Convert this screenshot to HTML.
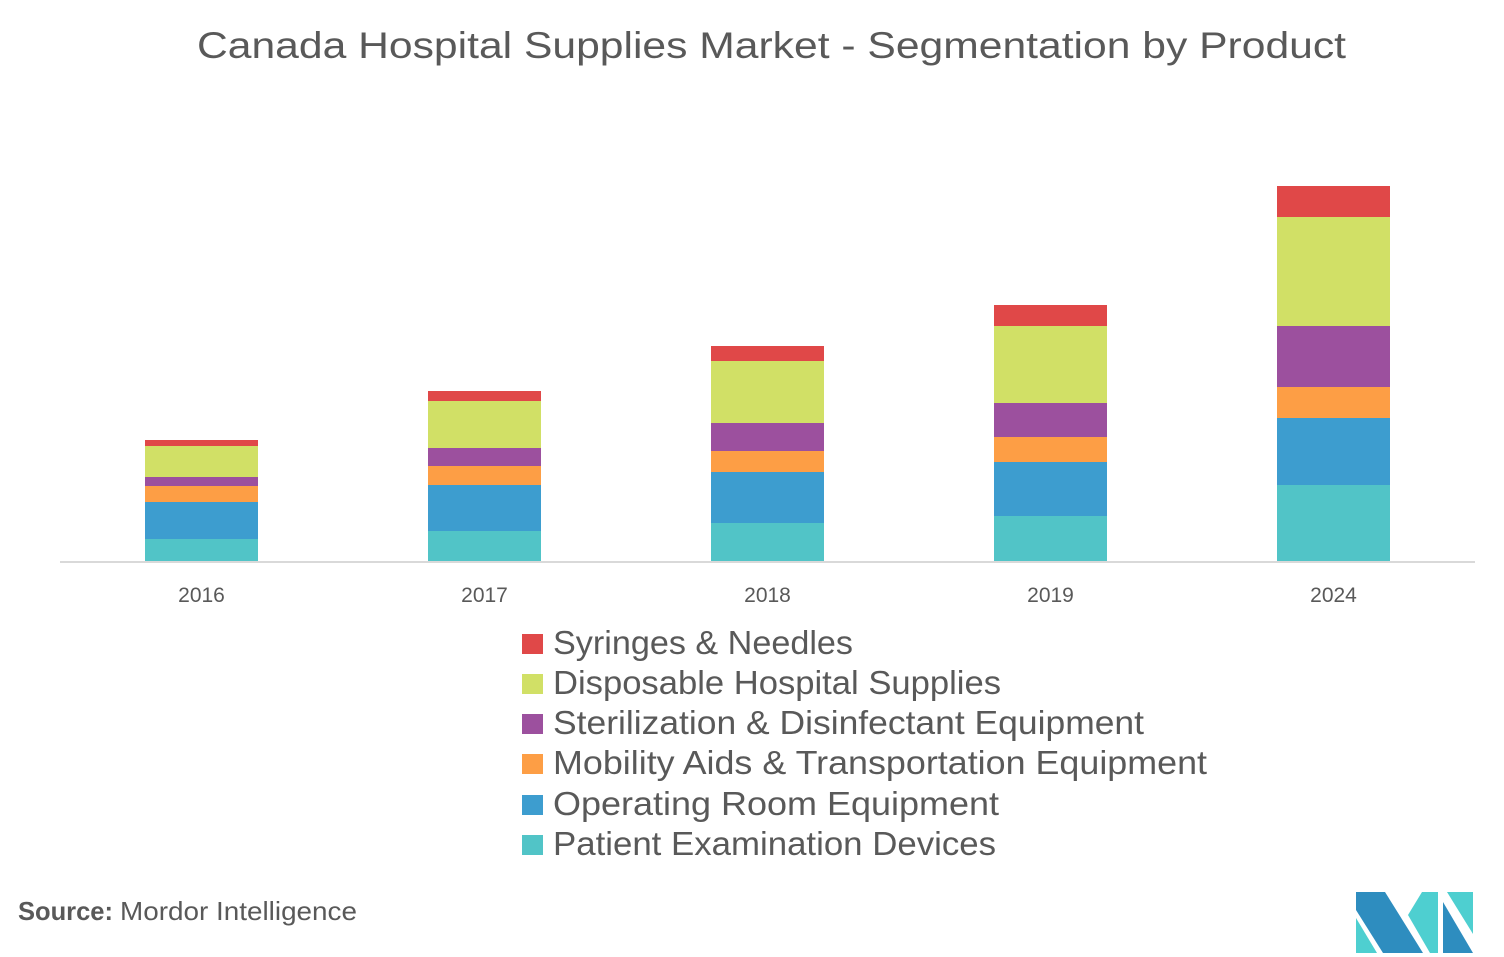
<!DOCTYPE html>
<html><head><meta charset="utf-8"><style>
html,body{margin:0;padding:0;background:#fff;}
svg{display:block;}
text{font-family:"Liberation Sans",sans-serif;fill:#595959;}
</style></head><body>
<svg width="1504" height="957" viewBox="0 0 1504 957" xmlns="http://www.w3.org/2000/svg">
<rect width="1504" height="957" fill="#fff"/>
<text x="197" y="58" font-size="37" textLength="1149" lengthAdjust="spacingAndGlyphs">Canada Hospital Supplies Market -  Segmentation by Product</text>

<!-- 2016 -->
<g>
<rect x="145" y="440" width="113" height="6" fill="#E04848"/>
<rect x="145" y="446" width="113" height="31" fill="#D1E066"/>
<rect x="145" y="477" width="113" height="9" fill="#9C509E"/>
<rect x="145" y="486" width="113" height="16" fill="#FD9E45"/>
<rect x="145" y="502" width="113" height="37" fill="#3D9DCF"/>
<rect x="145" y="539" width="113" height="22" fill="#51C4C7"/>
</g>
<!-- 2017 -->
<g>
<rect x="428" y="391" width="113" height="10" fill="#E04848"/>
<rect x="428" y="401" width="113" height="47" fill="#D1E066"/>
<rect x="428" y="448" width="113" height="18" fill="#9C509E"/>
<rect x="428" y="466" width="113" height="19" fill="#FD9E45"/>
<rect x="428" y="485" width="113" height="46" fill="#3D9DCF"/>
<rect x="428" y="531" width="113" height="30" fill="#51C4C7"/>
</g>
<!-- 2018 -->
<g>
<rect x="711" y="346" width="113" height="15" fill="#E04848"/>
<rect x="711" y="361" width="113" height="62" fill="#D1E066"/>
<rect x="711" y="423" width="113" height="28" fill="#9C509E"/>
<rect x="711" y="451" width="113" height="21" fill="#FD9E45"/>
<rect x="711" y="472" width="113" height="51" fill="#3D9DCF"/>
<rect x="711" y="523" width="113" height="38" fill="#51C4C7"/>
</g>
<!-- 2019 -->
<g>
<rect x="994" y="305" width="113" height="21" fill="#E04848"/>
<rect x="994" y="326" width="113" height="77" fill="#D1E066"/>
<rect x="994" y="403" width="113" height="34" fill="#9C509E"/>
<rect x="994" y="437" width="113" height="25" fill="#FD9E45"/>
<rect x="994" y="462" width="113" height="54" fill="#3D9DCF"/>
<rect x="994" y="516" width="113" height="45" fill="#51C4C7"/>
</g>
<!-- 2024 -->
<g>
<rect x="1277" y="186" width="113" height="31" fill="#E04848"/>
<rect x="1277" y="217" width="113" height="109" fill="#D1E066"/>
<rect x="1277" y="326" width="113" height="61" fill="#9C509E"/>
<rect x="1277" y="387" width="113" height="31" fill="#FD9E45"/>
<rect x="1277" y="418" width="113" height="67" fill="#3D9DCF"/>
<rect x="1277" y="485" width="113" height="76" fill="#51C4C7"/>
</g>

<rect x="60" y="561" width="1415" height="2" fill="#D9D9D9"/>

<g font-size="21" text-anchor="middle">
<text x="201.5" y="602">2016</text>
<text x="484.5" y="602">2017</text>
<text x="767.5" y="602">2018</text>
<text x="1050.5" y="602">2019</text>
<text x="1333.5" y="602">2024</text>
</g>

<!-- legend -->
<g>
<rect x="522" y="634" width="21" height="20" fill="#E04848"/>
<rect x="522" y="674" width="21" height="20" fill="#D1E066"/>
<rect x="522" y="714" width="21" height="20" fill="#9C509E"/>
<rect x="522" y="754" width="21" height="20" fill="#FD9E45"/>
<rect x="522" y="795" width="21" height="20" fill="#3D9DCF"/>
<rect x="522" y="835" width="21" height="20" fill="#51C4C7"/>
</g>
<g font-size="33">
<text x="553" y="654" textLength="300" lengthAdjust="spacingAndGlyphs">Syringes &amp; Needles</text>
<text x="553" y="694" textLength="448" lengthAdjust="spacingAndGlyphs">Disposable Hospital Supplies</text>
<text x="553" y="734" textLength="591" lengthAdjust="spacingAndGlyphs">Sterilization &amp; Disinfectant Equipment</text>
<text x="553" y="774" textLength="654" lengthAdjust="spacingAndGlyphs">Mobility Aids &amp; Transportation Equipment</text>
<text x="553" y="815" textLength="446" lengthAdjust="spacingAndGlyphs">Operating Room Equipment</text>
<text x="553" y="855" textLength="443" lengthAdjust="spacingAndGlyphs">Patient Examination Devices</text>
</g>

<text x="18" y="920" font-size="26" font-weight="bold" textLength="95" lengthAdjust="spacingAndGlyphs">Source:</text>
<text x="120" y="920" font-size="26" textLength="237" lengthAdjust="spacingAndGlyphs">Mordor Intelligence</text>

<!-- logo -->
<g>
<polygon points="1356,918 1356,953 1377,953" fill="#4ECFD0"/>
<polygon points="1356,892 1385,892 1423,953 1383,953 1356,910" fill="#2E8DBF"/>
<polygon points="1408,915 1422,892 1438,892 1438,953 1430,953" fill="#4ECFD0"/>
<polygon points="1443,902 1443,953 1473,953" fill="#2E8DBF"/>
<polygon points="1447,892 1473,892 1473,934" fill="#4ECFD0"/>
</g>
</svg>
</body></html>
